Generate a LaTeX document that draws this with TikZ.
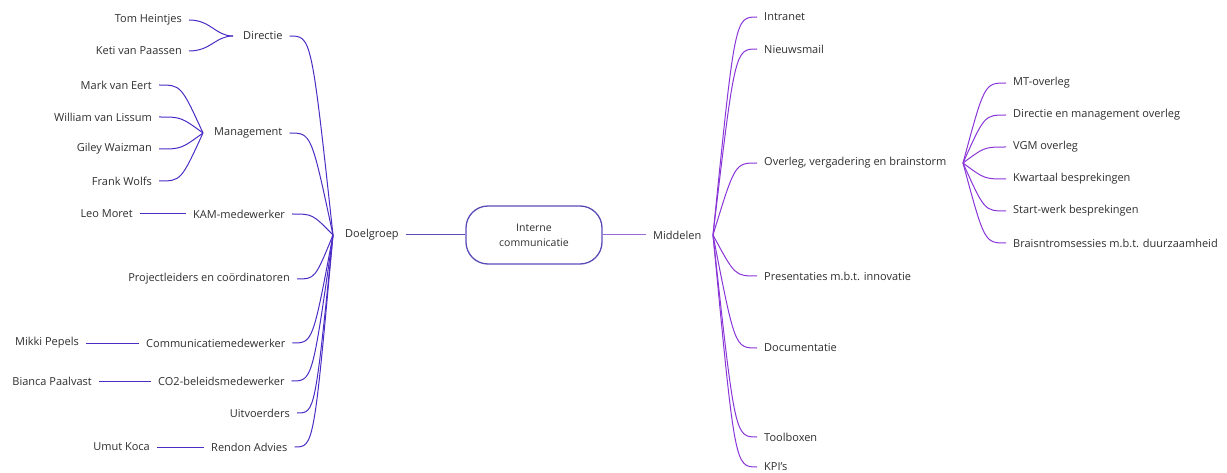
\documentclass[tikz,border=0pt]{standalone}
\usepackage{fontspec}
\setmainfont{Open Sans}
\usetikzlibrary{calc}
\definecolor{leftc}{HTML}{4B2CC4}
\definecolor{rightc}{HTML}{8A35D8}
\definecolor{boxc}{HTML}{5A4CB8}
\definecolor{midc}{HTML}{9A6AD0}
\definecolor{txt}{HTML}{2E2E2E}
\tikzset{
  lbl/.style={font=\fontsize{11}{13}\selectfont, text=txt, inner xsep=7pt, inner ysep=2pt},
  lb/.style={draw=leftc, line width=1pt},
  rb/.style={draw=rightc, line width=1pt},
  center/.style={draw=boxc, line width=1.3pt, rounded corners=22pt, minimum width=136pt, minimum height=58pt, align=center, font=\fontsize{10.5}{15}\selectfont, text=txt}
}
\newcommand\brc[3]{\draw[#1] (#2) .. controls ($(#2)!0.5!(#2 -| #3)$) .. (#3);}
\newcommand\brs[3]{\draw[#1] (#2) .. controls ($(#2)!0.5!(#2 -| #3)$) and ($(#3)!0.4!(#2 |- #3)$) .. (#3);}
\begin{document}
\begin{tikzpicture}[x=1pt,y=-1pt]
\useasboundingbox (0,0) rectangle (1227,473);
% center
\node[center] (ic) at (534,235) {Interne\\communicatie};
% left side
\node[lbl,anchor=west] (doel) at (338,235) {Doelgroep};
\coordinate (cdg) at (333,235);
\node[lbl,anchor=west] (dir) at (236,36) {Directie};
\coordinate (cd) at (233,36);
\node[lbl,anchor=east] (tom) at (189,20) {Tom Heintjes};
\node[lbl,anchor=east] (keti) at (189,51) {Keti van Paassen};
\node[lbl,anchor=west] (man) at (207,133) {Management};
\coordinate (cm) at (203,133);
\node[lbl,anchor=east] (mark) at (159,85) {Mark van Eert};
\node[lbl,anchor=east] (will) at (159,117) {William van Lissum};
\node[lbl,anchor=east] (gil) at (159,149) {Giley Waizman};
\node[lbl,anchor=east] (frank) at (159,181) {Frank Wolfs};
\node[lbl,anchor=west] (kam) at (186,214) {KAM-medewerker};
\node[lbl,anchor=east] (leo) at (140,214) {Leo Moret};
\node[lbl,anchor=east] (proj) at (297,279) {Projectleiders en coördinatoren};
\node[lbl,anchor=west] (comm) at (139,343) {Communicatiemedewerker};
\node[lbl,anchor=east] (mikki) at (86,343) {Mikki Pepels};
\node[lbl,anchor=west] (co2) at (151,381) {CO2-beleidsmedewerker};
\node[lbl,anchor=east] (bianca) at (99,381) {Bianca Paalvast};
\node[lbl,anchor=east] (uitv) at (297,413) {Uitvoerders};
\node[lbl,anchor=west] (rendon) at (204,447) {Rendon Advies};
\node[lbl,anchor=east] (umut) at (157,447) {Umut Koca};
% right side
\node[lbl,anchor=west] (mid) at (646,235) {Middelen};
\coordinate (cmid) at (713,235);
\node[lbl,anchor=west] (intra) at (757,17) {Intranet};
\node[lbl,anchor=west] (nieuws) at (757,49) {Nieuwsmail};
\node[lbl,anchor=west] (overleg) at (757,163) {Overleg, vergadering en brainstorm};
\coordinate (cov) at (963,163);
\node[lbl,anchor=west] (pres) at (757,276) {Presentaties m.b.t. innovatie};
\node[lbl,anchor=west] (docu) at (757,348) {Documentatie};
\node[lbl,anchor=west] (tool) at (757,437) {Toolboxen};
\node[lbl,anchor=west] (kpi) at (757,467) {KPI's};
\node[lbl,anchor=west] (mt) at (1006,83) {MT-overleg};
\node[lbl,anchor=west] (dmo) at (1006,115) {Directie en management overleg};
\node[lbl,anchor=west] (vgm) at (1006,147) {VGM overleg};
\node[lbl,anchor=west] (kw) at (1006,179) {Kwartaal besprekingen};
\node[lbl,anchor=west] (sw) at (1006,211) {Start-werk besprekingen};
\node[lbl,anchor=west] (bs) at (1006,243) {Braisntromsessies m.b.t. duurzaamheid};
% connectors center
\draw[draw=boxc, line width=1pt] (doel.east) -- (ic.west);
\draw[draw=midc, line width=1pt] (ic.east) -- (mid.west);
% left branches
\brs{lb}{tom.east}{cd}
\brs{lb}{keti.east}{cd}
\brc{lb}{mark.east}{cm}
\brc{lb}{will.east}{cm}
\brc{lb}{gil.east}{cm}
\brc{lb}{frank.east}{cm}
\draw[lb] (leo.east) -- (kam.west);
\draw[lb] (mikki.east) -- (comm.west);
\draw[lb] (bianca.east) -- (co2.west);
\draw[lb] (umut.east) -- (rendon.west);
\brc{lb}{dir.east}{cdg}
\brc{lb}{man.east}{cdg}
\brc{lb}{kam.east}{cdg}
\brc{lb}{proj.east}{cdg}
\brc{lb}{comm.east}{cdg}
\brc{lb}{co2.east}{cdg}
\brc{lb}{uitv.east}{cdg}
\brc{lb}{rendon.east}{cdg}
% right branches
\brc{rb}{intra.west}{cmid}
\brc{rb}{nieuws.west}{cmid}
\brc{rb}{overleg.west}{cmid}
\brc{rb}{pres.west}{cmid}
\brc{rb}{docu.west}{cmid}
\brc{rb}{tool.west}{cmid}
\brc{rb}{kpi.west}{cmid}
\brc{rb}{mt.west}{cov}
\brc{rb}{dmo.west}{cov}
\brc{rb}{vgm.west}{cov}
\brc{rb}{kw.west}{cov}
\brc{rb}{sw.west}{cov}
\brc{rb}{bs.west}{cov}
\end{tikzpicture}
\end{document}
